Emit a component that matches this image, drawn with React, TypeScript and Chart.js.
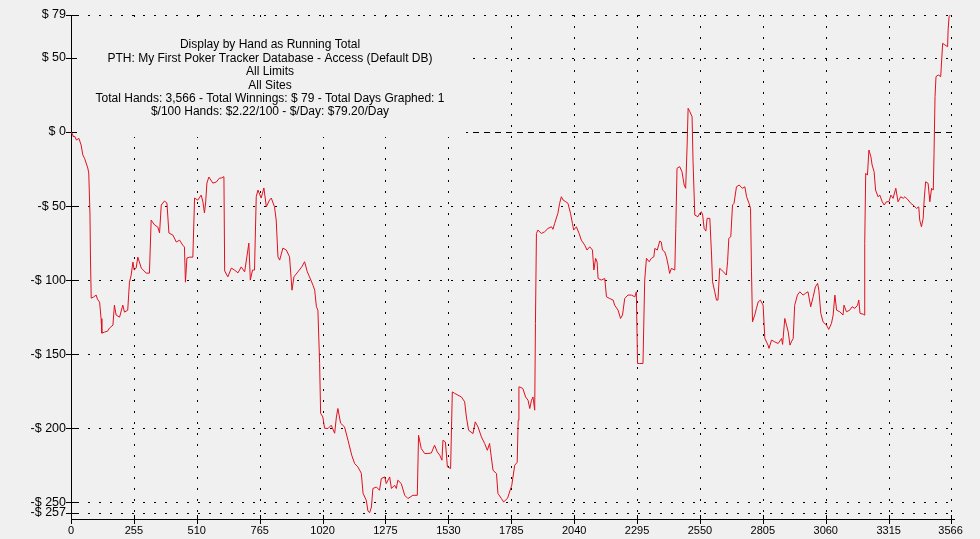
import React, { useEffect, useRef } from "react";
import { Chart, registerables } from "chart.js";

Chart.register(...registerables);

// Hand number of each sampled point
const hands = [
  0, 6, 10, 14, 22, 32, 41, 48, 55, 68,
  72, 77, 79, 82, 91, 102, 107, 116, 122, 125,
  136, 148, 156, 170, 176, 183, 197, 210, 217, 230,
  237, 244, 251, 256, 264, 271, 285, 305, 318, 325,
  339, 352, 359, 366, 379, 389, 397, 413, 427, 440,
  453, 460, 464, 470, 481, 494, 501, 514, 528, 535,
  541, 546, 551, 559, 575, 589, 602, 609, 620, 623,
  636, 650, 663, 677, 690, 704, 717, 721, 727, 736,
  744, 751, 758, 771, 782, 792, 805, 812, 825, 832,
  839, 846, 859, 873, 886, 896, 904, 920, 936, 947,
  958, 967, 981, 988, 995, 1001, 1008, 1012, 1021, 1028,
  1042, 1055, 1069, 1076, 1082, 1093, 1109, 1123, 1138, 1150,
  1163, 1177, 1184, 1197, 1204, 1211, 1218, 1224, 1238, 1251,
  1258, 1272, 1278, 1292, 1299, 1312, 1319, 1325, 1339, 1353,
  1366, 1386, 1404, 1409, 1420, 1434, 1447, 1461, 1474, 1485,
  1495, 1504, 1508, 1518, 1526, 1539, 1546, 1555, 1569, 1583,
  1596, 1603, 1612, 1630, 1639, 1650, 1664, 1677, 1688, 1697,
  1704, 1711, 1725, 1731, 1745, 1754, 1770, 1787, 1799, 1809,
  1813, 1816, 1819, 1832, 1843, 1853, 1860, 1867, 1873, 1880,
  1883, 1887, 1893, 1907, 1920, 1934, 1948, 1954, 1961, 1974,
  1981, 1988, 1995, 2006, 2015, 2025, 2033, 2038, 2049, 2060,
  2069, 2083, 2092, 2103, 2114, 2120, 2127, 2133, 2137, 2150,
  2164, 2171, 2184, 2198, 2204, 2218, 2228, 2236, 2245, 2258,
  2272, 2286, 2292, 2297, 2306, 2319, 2322, 2326, 2333, 2344,
  2353, 2363, 2367, 2377, 2387, 2393, 2398, 2407, 2414, 2421,
  2427, 2434, 2448, 2452, 2457, 2468, 2477, 2486, 2492, 2498,
  2502, 2509, 2518, 2522, 2529, 2542, 2549, 2556, 2561, 2567,
  2574, 2579, 2590, 2597, 2601, 2610, 2617, 2623, 2630, 2638,
  2645, 2657, 2662, 2667, 2675, 2682, 2688, 2698, 2709, 2722,
  2732, 2739, 2749, 2755, 2759, 2763, 2772, 2779, 2786, 2795,
  2806, 2813, 2826, 2830, 2840, 2853, 2867, 2881, 2885, 2894,
  2901, 2908, 2915, 2920, 2928, 2934, 2945, 2955, 2968, 2979,
  2988, 2999, 3009, 3018, 3027, 3032, 3040, 3049, 3063, 3072,
  3083, 3090, 3097, 3104, 3117, 3130, 3134, 3144, 3157, 3167,
  3178, 3189, 3194, 3199, 3212, 3216, 3218, 3222, 3229, 3235,
  3243, 3248, 3256, 3262, 3272, 3279, 3289, 3297, 3306, 3316,
  3324, 3333, 3344, 3353, 3364, 3374, 3381, 3394, 3405, 3414,
  3428, 3437, 3441, 3448, 3455, 3459, 3465, 3475, 3482, 3489,
  3496, 3499, 3503, 3507, 3516, 3526, 3530, 3534, 3543, 3554,
  3556, 3560, 3566,
];

// Running total winnings ($) at each hand above
const winnings = [
  0, -1.4, -3.4, -2.7, -5.4, -4.3, -8.8, -15.5, -17.8, -24.3,
  -27.7, -56, -86.5, -112.2, -111.5, -110.1, -112.8, -114.9, -126, -135.8,
  -135.1, -134.5, -132.4, -130.4, -116.9, -123.6, -125, -116.9, -121.6, -120.3,
  -101.4, -96.6, -87.8, -93.2, -91.9, -84.5, -91.9, -95.3, -95.3, -59.5,
  -62.8, -64.2, -68.2, -49.3, -46.6, -48, -68.2, -69.6, -74.3, -73,
  -76.4, -77.7, -101.4, -85.1, -84.5, -84.5, -44.6, -46, -42.6, -47.3,
  -54.7, -47.3, -34.5, -30.4, -34.5, -33.8, -31.1, -31.1, -30.2, -93.8,
  -97.8, -91.9, -93.2, -95.1, -91.1, -94.4, -79.7, -75, -100, -93.2,
  -93.2, -43.7, -39.2, -44.6, -37.8, -50.5, -45.9, -44.6, -50.5, -59.5,
  -84.3, -86.5, -78.4, -79.7, -84.3, -106.8, -97.8, -94.4, -91, -87.6,
  -94.4, -97.8, -103.4, -106.8, -118, -120.3, -156.3, -189.9, -192.4, -200,
  -200.2, -198, -203.4, -192.4, -186.7, -196.6, -199.1, -208.1, -218.2, -223.9,
  -226.1, -230.4, -243.9, -248.6, -256, -257, -253.2, -240.7, -239.7, -241.9,
  -234, -232.9, -237.4, -232.9, -240.7, -238.5, -240.7, -235.1, -237.4, -245.3,
  -247.5, -245.3, -245.3, -204.7, -213.7, -217.1, -217.1, -216.7, -211.5, -216,
  -218.2, -221.6, -208.1, -209.3, -226.1, -227.2, -175.5, -176.4, -177.7, -178.9,
  -182.2, -192.4, -201.4, -203.6, -195.7, -199.1, -205.9, -210.3, -214.9, -210.3,
  -219.4, -228.4, -230.6, -244.1, -247.5, -249.8, -247.3, -238.5, -225, -223,
  -194.6, -172.1, -172.1, -173.2, -178.9, -181.1, -186.7, -181.1, -178.9, -187.8,
  -129.3, -68.5, -66.2, -68.5, -67.4, -65.1, -64, -65.7, -61.7, -54.9,
  -48.2, -43.7, -45.9, -47.1, -48.2, -54.9, -61.7, -66.2, -64, -68.5,
  -73, -76.4, -79.7, -77.5, -79.7, -93.2, -85.3, -87.8, -98.9, -100,
  -98.9, -111.3, -112.4, -113.5, -116.9, -120.3, -125.9, -123.6, -112.4, -110.1,
  -110.1, -111.3, -107.9, -156.3, -156.3, -156.3, -131.6, -100, -85.3, -87.6,
  -85.3, -84.3, -78.6, -79.7, -73.6, -74.3, -79.7, -80.9, -84.3, -89.9,
  -95.5, -92.1, -93.2, -65.1, -24.5, -23.4, -26.8, -35.8, -38, -8.8,
  16, 13.7, 10.3, -20.1, -56.1, -57.2, -54.9, -53.9, -56.1, -65.1,
  -66.9, -58.3, -58.3, -83.1, -101.1, -107.9, -113.5, -113.5, -92.1, -93.2,
  -94.4, -96.6, -87.6, -71.8, -70.7, -49.3, -48.2, -37, -35.8, -38,
  -37, -43.7, -48.2, -51.6, -94.4, -128.2, -123.6, -119.1, -114.7, -113.5,
  -116.9, -139.4, -143.9, -146.1, -140.5, -141.7, -142.8, -139.4, -143.4, -125.9,
  -130.4, -135.1, -143.9, -141.9, -139.4, -117, -110.1, -107.9, -110.1, -108.8,
  -107.9, -118, -111.3, -104.5, -102.2, -106.8, -122.5, -128.2, -130.4, -133.3,
  -129.3, -123.6, -110.1, -120.3, -121.4, -123.6, -116.9, -121.4, -120.3, -118,
  -119.1, -116.9, -113.5, -122.5, -123, -123.6, -75.2, -27.9, -29.1, -12.2,
  -16.7, -22.3, -26.8, -39.2, -43.7, -42.6, -47.1, -49.3, -47.1, -47.1,
  -42.6, -44.8, -38, -47.1, -43.7, -44.8, -43.7, -45.9, -48.2, -49.3,
  -51.6, -50.5, -59.5, -64, -58.3, -45.9, -33.6, -34.7, -47.1, -38,
  -39.2, -14.4, 23.9, 37.4, 38.5, 37.4, 48.6, 59.9, 58.8, 57.6,
  68.9, 77.9, 79.2,
];

const xTickValues = [0, 255, 510, 765, 1020, 1275, 1530, 1785, 2040, 2295, 2550, 2805, 3060, 3315, 3566];
const yTickValues = [79, 50, 0, -50, -100, -150, -200, -250, -257];

const titleLines = [
  "Display by Hand as Running Total",
  "PTH: My First Poker Tracker Database - Access (Default DB)",
  "All Limits",
  "All Sites",
  "Total Hands: 3,566 - Total Winnings: $ 79 - Total Days Graphed: 1",
  "$/100 Hands: $2.22/100 - $/Day: $79.20/Day",
];

const X_MIN = 0;
const X_MAX = 3584;
const Y_MIN = -261.3;
const Y_MAX = 79;

const BG = "#f0f0f0";
const FONT = '"Liberation Sans", Arial, sans-serif';

const fmtMoney = (v: number) => (v < 0 ? `-$ ${-v}` : `$ ${v}`);

const pthPlugin = {
  id: "pthDecor",
  beforeDraw(chart: any) {
    const { ctx, width, height } = chart;
    ctx.save();
    ctx.fillStyle = BG;
    ctx.fillRect(0, 0, width, height);
    ctx.restore();
  },
  beforeDatasetsDraw(chart: any) {
    const { ctx, chartArea: a } = chart;
    const xs = chart.scales.x;
    const ys = chart.scales.y;
    ctx.save();
    ctx.strokeStyle = "#000";
    ctx.lineWidth = 1;

    // dotted grid
    ctx.setLineDash([2, 9]);
    for (const v of yTickValues) {
      if (v === 0) continue;
      const py = Math.round(ys.getPixelForValue(v)) + 0.5;
      ctx.beginPath();
      ctx.moveTo(a.left + 6, py);
      ctx.lineTo(a.right, py);
      ctx.stroke();
    }
    for (const v of xTickValues) {
      if (v === 0) continue;
      const px = Math.round(xs.getPixelForValue(v)) + 0.5;
      ctx.beginPath();
      ctx.moveTo(px, a.top);
      ctx.lineTo(px, a.bottom - 4);
      ctx.stroke();
    }
    // dashed zero line
    ctx.setLineDash([6, 5]);
    const zy = Math.round(ys.getPixelForValue(0)) + 0.5;
    ctx.beginPath();
    ctx.moveTo(a.left + 6, zy);
    ctx.lineTo(a.right, zy);
    ctx.stroke();
    ctx.setLineDash([]);

    // title box covering the grid
    ctx.fillStyle = BG;
    ctx.fillRect(a.left + 2, a.top + 2, 466 - (a.left + 2), 137 - (a.top + 2));

    // title text
    ctx.fillStyle = "#000";
    ctx.font = `12px ${FONT}`;
    ctx.textAlign = "center";
    ctx.textBaseline = "middle";
    titleLines.forEach((t, i) => ctx.fillText(t, 270, 45 + i * 13.4));

    // axes
    ctx.beginPath();
    ctx.moveTo(a.left + 0.5, a.top);
    ctx.lineTo(a.left + 0.5, a.bottom + 1);
    ctx.moveTo(a.left, a.bottom + 0.5);
    ctx.lineTo(a.right, a.bottom + 0.5);
    // tick marks
    for (const v of yTickValues) {
      const py = Math.round(ys.getPixelForValue(v)) + 0.5;
      ctx.moveTo(a.left - 5, py);
      ctx.lineTo(a.left + 6, py);
    }
    for (const v of xTickValues) {
      const px = Math.round(xs.getPixelForValue(v)) + 0.5;
      ctx.moveTo(px, a.bottom - 4);
      ctx.lineTo(px, a.bottom + 5);
    }
    ctx.stroke();
    ctx.restore();
  },
};

export default function App() {
  const ref = useRef<HTMLCanvasElement | null>(null);

  useEffect(() => {
    document.body.style.margin = "0";
    document.body.style.background = BG;
    const canvas = ref.current;
    if (!canvas) return;
    const points = hands.map((h, i) => ({ x: h, y: winnings[i] }));
    const chart = new Chart(canvas, {
      type: "line",
      data: {
        datasets: [
          {
            data: points,
            borderColor: "#e0101e",
            borderWidth: 1,
            pointRadius: 0,
            tension: 0,
            fill: false,
          },
        ],
      },
      options: {
        animation: false,
        responsive: false,
        devicePixelRatio: 1,
        layout: { padding: { left: 0, top: 15, right: 25, bottom: 0 } },
        plugins: { legend: { display: false }, tooltip: { enabled: false }, title: { display: false } },
        scales: {
          x: {
            type: "linear",
            min: X_MIN,
            max: X_MAX,
            grid: { display: false, drawTicks: false },
            border: { display: false },
            afterBuildTicks: (s: any) => {
              s.ticks = xTickValues.map((v) => ({ value: v }));
            },
            afterFit: (s: any) => {
              s.height = 20;
            },
            ticks: {
              autoSkip: false,
              maxRotation: 0,
              padding: 5,
              color: "#000",
              font: { family: FONT, size: 11 },
              callback: (v: any) => String(v),
            },
          },
          y: {
            type: "linear",
            min: Y_MIN,
            max: Y_MAX,
            grid: { display: false, drawTicks: false },
            border: { display: false },
            afterBuildTicks: (s: any) => {
              s.ticks = yTickValues.map((v) => ({ value: v }));
            },
            afterFit: (s: any) => {
              s.width = 71;
            },
            ticks: {
              autoSkip: false,
              padding: 5,
              color: "#000",
              font: { family: FONT, size: 12.5 },
              callback: (v: any) => fmtMoney(Number(v)),
            },
          },
        },
      },
      plugins: [pthPlugin],
    });
    return () => chart.destroy();
  }, []);

  return (
    <div style={{ width: 980, height: 539, background: BG }}>
      <canvas ref={ref} width={980} height={539} style={{ display: "block" }} />
    </div>
  );
}
